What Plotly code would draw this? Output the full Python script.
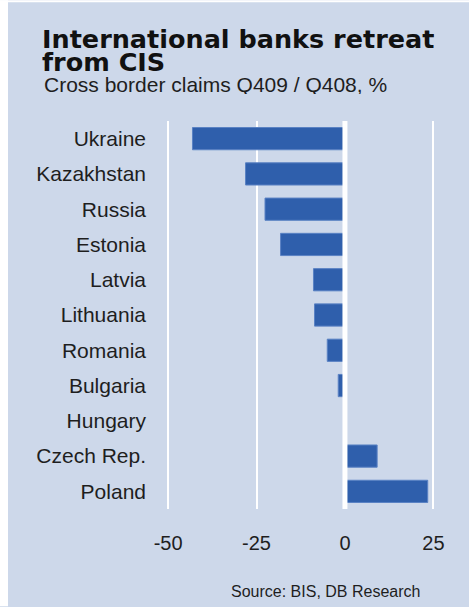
import plotly.graph_objects as go

countries = ["Ukraine", "Kazakhstan", "Russia", "Estonia", "Latvia", "Lithuania",
             "Romania", "Bulgaria", "Hungary", "Czech Rep.", "Poland"]
change_pct = [-43.1, -28.1, -22.6, -18.2, -8.9, -8.6, -5.0, -1.9, 0.0, 9.1, 23.4]
x_ticks = [-50, -25, 0, 25]
x_tick_labels = ["-50", "-25", "0", "25"]

title_line1 = "International banks retreat"
title_line2 = "from CIS"
subtitle = "Cross border claims Q409 / Q408, %"
source = "Source: BIS, DB Research"

W, H = 469, 607
L, R, T, B = 161, 25, 121, 97.5
PW = W - L - R
PH = H - T - B

BG = "#cdd8ea"
BAR = "#2f5fac"
TXT = "#1e1e1e"


def px_x(px):
    return (px - L) / PW


def px_y(py):
    return (H - B - py) / PH


fig = go.Figure()
fig.add_trace(go.Bar(
    x=change_pct, y=countries, orientation="h",
    marker=dict(color=BAR, line=dict(color="#5a82c4", width=1)),
    hoverinfo="x+y",
))

fig.update_layout(
    width=W, height=H,
    margin=dict(l=L, r=R, t=T, b=B),
    paper_bgcolor=BG, plot_bgcolor=BG,
    showlegend=False,
    bargap=0.37,
    font=dict(family="Liberation Sans, Arial, sans-serif", size=21, color=TXT),
    xaxis=dict(
        range=[-52, 28], tickvals=x_ticks, ticktext=x_tick_labels,
        showgrid=True, gridcolor="white", gridwidth=2,
        zeroline=False, showline=False, ticks="", ticklabelstandoff=20,
        tickfont=dict(size=20), fixedrange=True,
    ),
    yaxis=dict(
        autorange="reversed", showgrid=False, zeroline=False, showline=False,
        ticks="", ticklabelstandoff=14, fixedrange=True,
    ),
    shapes=[
        dict(type="line", xref="x", yref="paper", x0=0, x1=0, y0=0, y1=1,
             line=dict(color="white", width=5), layer="above"),
        dict(type="rect", xref="paper", yref="paper",
             x0=px_x(0), x1=px_x(8), y0=px_y(H), y1=px_y(0),
             fillcolor="white", line=dict(width=0), layer="above"),
        dict(type="rect", xref="paper", yref="paper",
             x0=px_x(0), x1=px_x(W), y0=px_y(2), y1=px_y(0),
             fillcolor="white", line=dict(width=0), layer="above"),
    ],
    annotations=[
        dict(text="<b>" + title_line1 + "</b>", xref="paper", yref="paper",
             x=px_x(40), y=px_y(38.5), xanchor="left", yanchor="middle",
             showarrow=False, height=22,
             font=dict(family="DejaVu Sans", size=25.5, color="#111111")),
        dict(text="<b>" + title_line2 + "</b>", xref="paper", yref="paper",
             x=px_x(40), y=px_y(61.5), xanchor="left", yanchor="middle",
             showarrow=False, height=22,
             font=dict(family="DejaVu Sans", size=25.5, color="#111111")),
        dict(text=subtitle, xref="paper", yref="paper",
             x=px_x(42), y=px_y(83.5), xanchor="left", yanchor="middle",
             showarrow=False, height=20,
             font=dict(family="Liberation Sans, Arial", size=21, color=TXT)),
        dict(text=source, xref="paper", yref="paper",
             x=px_x(229), y=px_y(592.5), xanchor="left", yanchor="middle",
             showarrow=False,
             font=dict(family="Liberation Sans, Arial", size=16, color=TXT)),
    ],
)

fig.write_html("out.html")
